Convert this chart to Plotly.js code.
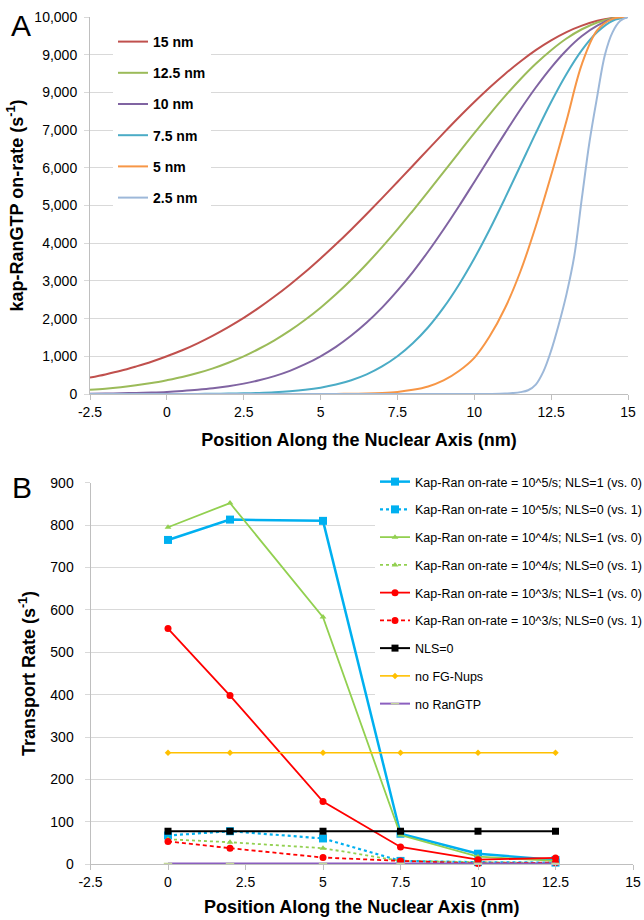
<!DOCTYPE html>
<html>
<head>
<meta charset="utf-8">
<script src="https://cdn.plot.ly/plotly-3.0.1.min.js"></script>
<style>html,body{margin:0;padding:0;background:#fff;}#chart{width:644px;height:920px;}</style>
</head>
<body>
<div id="chart"></div>
<script>
// ---------- Panel A data ----------
const positionA = [-2.5,-2,-1.5,-1,-0.5,0,0.5,1,1.5,2,2.5,3,3.5,4,4.5,5,5.5,6,6.5,7,7.5,8,8.5,9,9.5,10,10.5,11,11.5,12,12.5,13,13.5,14,14.5,15];
const rate15 = [435,520,615,730,855,1000,1160,1345,1550,1775,2020,2290,2585,2900,3235,3595,3970,4365,4775,5195,5625,6055,6490,6920,7340,7745,8130,8490,8820,9120,9380,9600,9770,9900,9975,10000];
const rate125 = [110,140,180,230,290,365,450,555,680,830,1000,1200,1425,1680,1970,2290,2645,3030,3450,3895,4365,4860,5365,5885,6405,6920,7420,7900,8350,8760,9120,9430,9675,9855,9965,10000];
const rate10 = [9,13,19,28,40,56,80,110,150,205,275,365,475,615,790,1000,1250,1550,1895,2290,2740,3235,3780,4365,4980,5625,6275,6920,7545,8130,8660,9120,9495,9770,9945,10000];
const rate75 = [0,0,0,0,0,1,2,3,6,10,17,28,45,71,110,167,250,365,520,730,1000,1345,1770,2290,2900,3595,4365,5195,6055,6920,7745,8490,9120,9600,9900,10000];
const rate5 = [0,0,0,0,0,0,0,0,0,0,0,0,0,0,0,1,2,6,13,28,56,110,200,360,610,960,1530,2280,3250,4450,5800,7250,8750,9650,9950,10000];
const positionA25 = [-2.5,0,2.5,5,7.5,10,10.5,11,11.25,11.5,11.75,12,12.25,12.5,12.75,13,13.25,13.5,13.75,14,14.25,14.5,14.75,15];
const rate25 = [0,0,0,0,0,0,2,10,25,50,100,250,600,1150,1850,2650,3650,5200,6700,7900,9000,9600,9900,10000];
const namesA = ['15 nm','12.5 nm','10 nm','7.5 nm','5 nm','2.5 nm'];
const colorsA = ['#c0504d','#9bbb59','#8064a2','#4bacc6','#f79646','#9db8d9'];
const ticksA_x = [-2.5,0,2.5,5,7.5,10,12.5,15];
const ticksA_y = [0,1000,2000,3000,4000,5000,6000,7000,8000,9000,10000];
const tickTextA_y = ['0','1,000','2,000','3,000','4,000','5,000','6,000','7,000','9,000','9,000','10,000'];

// ---------- Panel B data ----------
const positionB = [0,2,5,7.5,10,12.5];
const k5_nls1 = [765,813,810,72,25,10];
const k5_nls0 = [68,78,61,8,5,4];
const k4_nls1 = [795,852,583,69,18,8];
const k4_nls0 = [59,52,38,8,5,3];
const k3_nls1 = [556,398,148,41,11,15];
const k3_nls0 = [54,38,16,8,2,4];
const nls0 = [78,78,78,78,78,78];
const noFGNups = [263,263,263,263,263,263];
const noRanGTP = [2,2,2,2,2,2];
const namesB = [
  'Kap-Ran on-rate = 10^5/s; NLS=1 (vs. 0)',
  'Kap-Ran on-rate = 10^5/s; NLS=0 (vs. 1)',
  'Kap-Ran on-rate = 10^4/s; NLS=1 (vs. 0)',
  'Kap-Ran on-rate = 10^4/s; NLS=0 (vs. 1)',
  'Kap-Ran on-rate = 10^3/s; NLS=1 (vs. 0)',
  'Kap-Ran on-rate = 10^3/s; NLS=0 (vs. 1)',
  'NLS=0','no FG-Nups','no RanGTP'];
const ticksB_x = [-2.5,0,2.5,5,7.5,10,12.5,15];
const ticksB_y = [0,100,200,300,400,500,600,700,800,900];

const FONT = 'Liberation Sans, Arial, Helvetica, sans-serif';
const W = 644, H = 920;
const px = v => v / W;
const py = v => 1 - v / H;

const traces = [];
const seriesA = [rate15, rate125, rate10, rate75, rate5, rate25];
seriesA.forEach((ys, i) => {
  traces.push({
    x: i === 5 ? positionA25 : positionA, y: ys,
    xaxis: 'x', yaxis: 'y', mode: 'lines', name: namesA[i],
    legend: 'legend', legendgroup: 'a' + i,
    line: {color: colorsA[i], width: 2, shape: 'spline', smoothing: 1},
    hoverinfo: 'skip'
  });
});

const bSpec = [
  {y: k5_nls1, color: '#00b0f0', dash: 'solid', w: 2.5, sym: 'square', size: 8},
  {y: k5_nls0, color: '#00b0f0', dash: 'dot', w: 2.2, sym: 'square', size: 8},
  {y: k4_nls1, color: '#92d050', dash: 'solid', w: 1.8, sym: 'triangle-up', size: 6},
  {y: k4_nls0, color: '#92d050', dash: 'dot', w: 1.8, sym: 'triangle-up', size: 6},
  {y: k3_nls1, color: '#ff0000', dash: 'solid', w: 1.8, sym: 'circle', size: 7},
  {y: k3_nls0, color: '#ff0000', dash: '4px,3px', w: 1.8, sym: 'circle', size: 7},
  {y: nls0, color: '#000000', dash: 'solid', w: 2, sym: 'square', size: 7},
  {y: noFGNups, color: '#ffc000', dash: 'solid', w: 1.6, sym: 'diamond', size: 5},
  {y: noRanGTP, color: '#8b5fbf', dash: 'solid', w: 2, sym: 'line-ew-open', size: 6, mcolor: '#c4d79b'}
];
bSpec.forEach((s, i) => {
  traces.push({
    x: positionB, y: s.y, xaxis: 'x2', yaxis: 'y2', mode: 'lines+markers',
    name: namesB[i], legend: 'legend2', legendgroup: 'b' + i,
    line: {color: s.color, width: s.w, dash: s.dash},
    marker: {symbol: s.sym, size: s.size, color: s.mcolor || s.color,
             line: {color: s.mcolor || s.color, width: s.mcolor ? 1.5 : 0}},
    cliponaxis: false, hoverinfo: 'skip'
  });
});

const axisCommon = {
  showline: true, linecolor: '#bfbfbf', linewidth: 1,
  ticks: 'outside', ticklen: 5, tickcolor: '#bfbfbf', tickwidth: 1,
  zeroline: false, tickfont: {family: FONT, size: 14, color: '#000'},
  fixedrange: true
};
const titleFont = {family: FONT, size: 18, color: '#000', weight: 'bold'};

const layout = {
  width: W, height: H,
  margin: {l: 0, r: 0, t: 0, b: 0, autoexpand: false},
  paper_bgcolor: '#fff', plot_bgcolor: '#fff',
  font: {family: FONT, color: '#000'},
  showlegend: true,
  xaxis: Object.assign({}, axisCommon, {
    domain: [px(90), px(628)], anchor: 'y', range: [-2.5, 15],
    tickmode: 'array', tickvals: ticksA_x, ticktext: ticksA_x.map(String),
    showgrid: false,
    title: {text: 'Position Along the Nuclear Axis (nm)', font: titleFont, standoff: 14}
  }),
  yaxis: Object.assign({}, axisCommon, {
    domain: [py(394), py(17)], anchor: 'x', range: [0, 10000],
    tickmode: 'array', tickvals: ticksA_y, ticktext: tickTextA_y,
    showgrid: true, gridcolor: '#d9d9d9', gridwidth: 1, tickcolor: '#d9d9d9',
    ticklabelstandoff: 4,
    title: {text: 'kap-RanGTP on-rate (s<sup>-1</sup>)', font: titleFont, standoff: 6}
  }),
  xaxis2: Object.assign({}, axisCommon, {
    domain: [px(90.5), px(633)], anchor: 'y2', range: [-2.5, 15],
    tickmode: 'array', tickvals: ticksB_x, ticktext: ticksB_x.map(String),
    showgrid: false,
    title: {text: 'Position Along the Nuclear Axis (nm)', font: titleFont, standoff: 11}
  }),
  yaxis2: Object.assign({}, axisCommon, {
    domain: [py(864.3), py(482.7)], anchor: 'x2', range: [0, 900],
    tickmode: 'array', tickvals: ticksB_y, ticktext: ticksB_y.map(String),
    showgrid: true, gridcolor: '#d9d9d9', gridwidth: 1, tickcolor: '#d9d9d9',
    ticklabelstandoff: 8,
    title: {text: 'Transport Rate (s<sup>-1</sup>)', font: titleFont, standoff: 10}
  }),
  legend: {
    x: px(113), xanchor: 'left', y: py(26), yanchor: 'top',
    bgcolor: '#fff', borderwidth: 0,
    font: {family: FONT, size: 14, color: '#000', weight: 'bold'},
    traceorder: 'grouped', tracegroupgap: 10, itemclick: false, itemdoubleclick: false
  },
  legend2: {
    x: px(375), xanchor: 'left', y: py(467), yanchor: 'top',
    bgcolor: '#fff', borderwidth: 0,
    font: {family: FONT, size: 12.5, color: '#000'},
    traceorder: 'grouped', tracegroupgap: 8.5, itemclick: false, itemdoubleclick: false
  },
  annotations: [
    {text: 'A', x: px(21), y: py(25), xref: 'paper', yref: 'paper', showarrow: false,
     xanchor: 'center', yanchor: 'middle', font: {family: FONT, size: 30, color: '#000'}},
    {text: 'B', x: px(22), y: py(487), xref: 'paper', yref: 'paper', showarrow: false,
     xanchor: 'center', yanchor: 'middle', font: {family: FONT, size: 30, color: '#000'}}
  ]
};

Plotly.newPlot('chart', traces, layout, {staticPlot: true, displayModeBar: false});
</script>
</body>
</html>
